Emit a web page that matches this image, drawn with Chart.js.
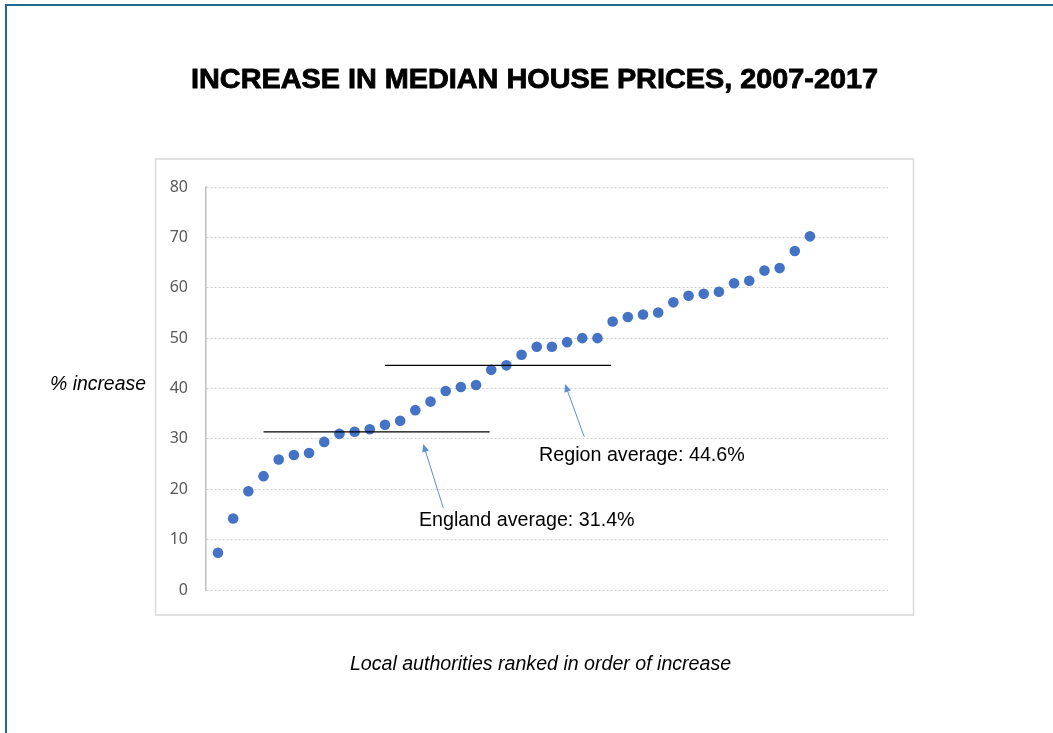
<!DOCTYPE html>
<html>
<head>
<meta charset="utf-8">
<script src="https://cdn.jsdelivr.net/npm/chart.js@4/dist/chart.umd.min.js"></script>
<style>
  html, body { margin: 0; padding: 0; background: #ffffff; }
  #wrap { width: 1053px; height: 733px; position: relative; }
</style>
</head>
<body>
<div id="wrap"><canvas id="c" width="1053" height="733"></canvas></div>
<script>
// ---- Data ----
const title = 'INCREASE IN MEDIAN HOUSE PRICES, 2007-2017';
const yAxisTitle = '% increase';
const xAxisTitle = 'Local authorities ranked in order of increase';
const yTicks = [0, 10, 20, 30, 40, 50, 60, 70, 80];
const ranks = Array.from({length: 40}, (_, i) => i + 1);
const increases = [7.4, 14.2, 19.6, 22.6, 25.9, 26.8, 27.2, 29.4, 31.0, 31.4,
                   31.9, 32.8, 33.6, 35.7, 37.4, 39.5, 40.3, 40.7, 43.7, 44.6,
                   46.7, 48.3, 48.3, 49.2, 50.0, 50.0, 53.3, 54.2, 54.7, 55.1,
                   57.1, 58.4, 58.8, 59.2, 60.9, 61.4, 63.4, 63.9, 67.3, 70.2];
const englandAverage = 31.4;
const englandLineRanks = [4, 18.9];
const regionAverage = 44.6;
const regionLineRanks = [12, 26.9];
const englandLabel = 'England average: 31.4%';
const regionLabel = 'Region average: 44.6%';
// annotation anchors in data units [rank, value]
const englandArrow = [[15.84, 16.3], [14.52, 29.0]];
const regionArrow = [[25.13, 30.4], [23.86, 40.9]];
const englandLabelPos = [14.24, 13.7];
const regionLabelPos = [22.15, 26.7];

const points = ranks.map((r, i) => ({x: r, y: increases[i]}));

const decor = {
  id: 'decor',
  beforeDraw(chart) {
    const ctx = chart.ctx;
    ctx.save();
    ctx.fillStyle = '#ffffff';
    ctx.fillRect(0, 0, chart.width, chart.height);
    // outer frame
    ctx.strokeStyle = '#1F6A91';
    ctx.lineWidth = 2;
    ctx.strokeRect(6, 5, 1200, 1000);
    // chart box
    ctx.strokeStyle = '#D9D9D9';
    ctx.lineWidth = 1.5;
    ctx.strokeRect(155.5, 159, 758, 456);
    ctx.restore();
  },
  afterDraw(chart) {
    const ctx = chart.ctx;
    const xs = chart.scales.x, ys = chart.scales.y;
    ctx.save();
    // title
    ctx.fillStyle = '#000000';
    ctx.font = 'bold 27px "Liberation Sans", Arial, sans-serif';
    ctx.textBaseline = 'middle';
    ctx.textAlign = 'left';
    const tw = ctx.measureText(title).width;
    const target = 687;
    ctx.save();
    ctx.translate(191, 81);
    ctx.scale(target / tw, 1);
    ctx.fillText(title, 0, 0);
    ctx.lineWidth = 0.8;
    ctx.strokeStyle = '#000000';
    ctx.strokeText(title, 0, 0);
    ctx.restore();
    // axis titles
    ctx.font = 'italic 19.4px "Liberation Sans", Arial, sans-serif';
    ctx.textAlign = 'left';
    ctx.fillText(yAxisTitle, 50, 385);
    ctx.textAlign = 'center';
    ctx.font = 'italic 19.6px "Liberation Sans", Arial, sans-serif';
    ctx.fillText(xAxisTitle, 540.5, 665);
    // arrows
    const drawArrow = (a) => {
      const x1 = xs.getPixelForValue(a[0][0]), y1 = ys.getPixelForValue(a[0][1]);
      const x2 = xs.getPixelForValue(a[1][0]), y2 = ys.getPixelForValue(a[1][1]);
      const ang = Math.atan2(y2 - y1, x2 - x1);
      const len = 8, half = 3.5;
      ctx.strokeStyle = '#5B8FD5';
      ctx.fillStyle = '#5B8FD5';
      ctx.lineWidth = 1;
      ctx.beginPath();
      ctx.moveTo(x1, y1);
      ctx.lineTo(x2 - Math.cos(ang) * len * 0.8, y2 - Math.sin(ang) * len * 0.8);
      ctx.stroke();
      ctx.beginPath();
      ctx.moveTo(x2, y2);
      ctx.lineTo(x2 - Math.cos(ang) * len + Math.sin(ang) * half, y2 - Math.sin(ang) * len - Math.cos(ang) * half);
      ctx.lineTo(x2 - Math.cos(ang) * len - Math.sin(ang) * half, y2 - Math.sin(ang) * len + Math.cos(ang) * half);
      ctx.closePath();
      ctx.fill();
    };
    drawArrow(englandArrow);
    drawArrow(regionArrow);
    // labels
    ctx.fillStyle = '#000000';
    ctx.font = '19.7px "Liberation Sans", Arial, sans-serif';
    ctx.textAlign = 'left';
    ctx.textBaseline = 'middle';
    ctx.fillText(englandLabel, xs.getPixelForValue(englandLabelPos[0]), ys.getPixelForValue(englandLabelPos[1]));
    ctx.fillText(regionLabel, xs.getPixelForValue(regionLabelPos[0]), ys.getPixelForValue(regionLabelPos[1]));
    ctx.restore();
  }
};

new Chart(document.getElementById('c'), {
  type: 'scatter',
  data: {
    datasets: [
      {
        label: 'Increase',
        data: points,
        backgroundColor: '#4472C4',
        borderColor: '#4472C4',
        pointRadius: 5.3,
        pointHoverRadius: 5.3,
        borderWidth: 0,
        order: 2
      },
      {
        label: 'England average',
        data: englandLineRanks.map(r => ({x: r, y: englandAverage})),
        showLine: true,
        borderColor: '#000000',
        borderWidth: 1.3,
        pointRadius: 0,
        order: 1
      },
      {
        label: 'Region average',
        data: regionLineRanks.map(r => ({x: r, y: regionAverage})),
        showLine: true,
        borderColor: '#000000',
        borderWidth: 1.3,
        pointRadius: 0,
        order: 1
      }
    ]
  },
  options: {
    responsive: false,
    animation: false,
    events: [],
    layout: { padding: { left: 150, right: 165, top: 187, bottom: 143 } },
    plugins: { legend: { display: false }, tooltip: { enabled: false }, title: { display: false } },
    scales: {
      x: {
        type: 'linear',
        min: 0.21,
        max: 45.14,
        display: false
      },
      y: {
        min: 0,
        max: 80,
        afterFit: (s) => { s.width = 56; },
        afterBuildTicks: (s) => { s.ticks = yTicks.map(v => ({value: v})); },
        grid: { color: '#CFCFCF', lineWidth: 1, drawTicks: false },
        border: { display: true, color: '#BFBFBF', width: 1.5, dash: [2, 2] },
        ticks: {
          padding: 18,
          color: '#595959',
          font: { family: '"Noto Sans", "DejaVu Sans", sans-serif', size: 16 }
        }
      }
    }
  },
  plugins: [decor]
});
</script>
</body>
</html>
